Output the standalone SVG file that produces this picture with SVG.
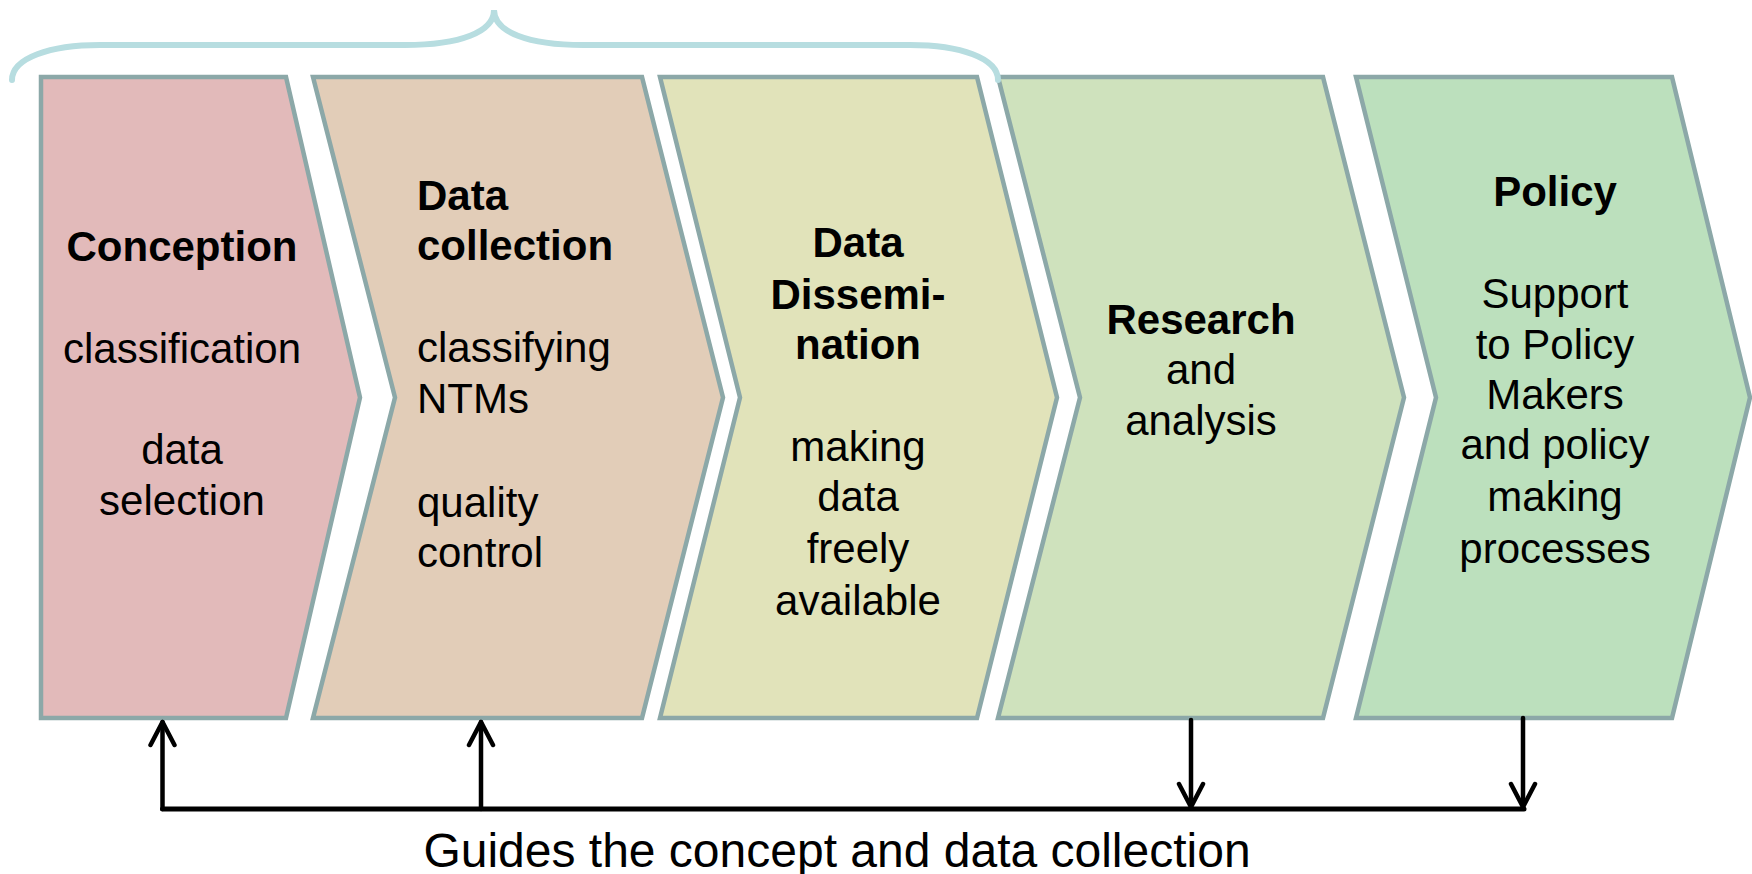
<svg xmlns="http://www.w3.org/2000/svg" width="1752" height="874" viewBox="0 0 1752 874">
<style>
.sh{stroke:#8ca8a8;stroke-width:4.5;stroke-linejoin:miter}
.t{font-family:"Liberation Sans",Arial,sans-serif;font-size:42px;fill:#000}
.b{font-weight:bold}
.c{text-anchor:middle}
.ln{stroke:#000;fill:none;stroke-linecap:round;stroke-linejoin:round}
</style>
<defs>
<marker id="ah" viewBox="0 0 30 30" refX="26" refY="15" markerWidth="30" markerHeight="30" markerUnits="userSpaceOnUse" orient="auto">
<path d="M3 3 L26 15 L3 27" fill="none" stroke="#000" stroke-width="4.5" stroke-linecap="round" stroke-linejoin="round"/>
</marker>
</defs>
<rect width="1752" height="874" fill="#fff"/>
<g id="conception">
<path class="sh" fill="#e2baba" d="M41 77 L286 77 L360 397.5 L286 718 L41 718 Z"/>
<text class="t b c" x="182" y="261">Conception</text>
<text class="t c" x="182" y="363">classification</text>
<text class="t c" x="182" y="464">data</text>
<text class="t c" x="182" y="515">selection</text>
</g>
<g id="data-collection">
<path class="sh" fill="#e2cdb8" d="M313 77 L642 77 L723 397.5 L642 718 L313 718 L395 397.5 Z"/>
<text class="t b" x="417" y="210">Data</text>
<text class="t b" x="417" y="260">collection</text>
<text class="t" x="417" y="362">classifying</text>
<text class="t" x="417" y="413">NTMs</text>
<text class="t" x="417" y="517">quality</text>
<text class="t" x="417" y="567">control</text>
</g>
<g id="data-dissemination">
<path class="sh" fill="#e1e3ba" d="M660 77 L977 77 L1057 397.5 L977 718 L660 718 L740 397.5 Z"/>
<text class="t b c" x="858" y="257">Data</text>
<text class="t b c" x="858" y="309">Dissemi-</text>
<text class="t b c" x="858" y="359">nation</text>
<text class="t c" x="858" y="461">making</text>
<text class="t c" x="858" y="511">data</text>
<text class="t c" x="858" y="563">freely</text>
<text class="t c" x="858" y="615">available</text>
</g>
<g id="research">
<path class="sh" fill="#cfe2bd" d="M998 77 L1323 77 L1404 397.5 L1323 718 L998 718 L1080 397.5 Z"/>
<text class="t b c" x="1201" y="334">Research</text>
<text class="t c" x="1201" y="384">and</text>
<text class="t c" x="1201" y="435">analysis</text>
</g>
<g id="policy">
<path class="sh" fill="#bce0bd" d="M1356 77 L1672 77 L1750 397.5 L1672 718 L1356 718 L1436 397.5 Z"/>
<text class="t b c" x="1555" y="206">Policy</text>
<text class="t c" x="1555" y="308">Support</text>
<text class="t c" x="1555" y="359">to Policy</text>
<text class="t c" x="1555" y="409">Makers</text>
<text class="t c" x="1555" y="459">and policy</text>
<text class="t c" x="1555" y="511">making</text>
<text class="t c" x="1555" y="563">processes</text>
</g>
<g id="brace">
<path d="M12 80 C12 58 50 45 100 45 L405 45 C460 45 494 32 494 10 C494 32 528 45 583 45 L910 45 C960 45 998 58 998 80" fill="none" stroke="#b7dde0" stroke-width="6" stroke-linecap="round"/>
</g>
<g id="connectors">
<path class="ln" stroke-width="5" d="M162.5 809 L1524 809"/>
<path class="ln" stroke-width="4.5" d="M162.5 809 L162.5 722" marker-end="url(#ah)"/>
<path class="ln" stroke-width="4.5" d="M481 809 L481 722" marker-end="url(#ah)"/>
<path class="ln" stroke-width="4.5" d="M1191 720 L1191 807" marker-end="url(#ah)"/>
<path class="ln" stroke-width="4.5" d="M1523 718 L1523 807" marker-end="url(#ah)"/>
</g>
<g id="caption">
<text class="t c" style="font-size:48px" x="837" y="867">Guides the concept and data collection</text>
</g>
</svg>
